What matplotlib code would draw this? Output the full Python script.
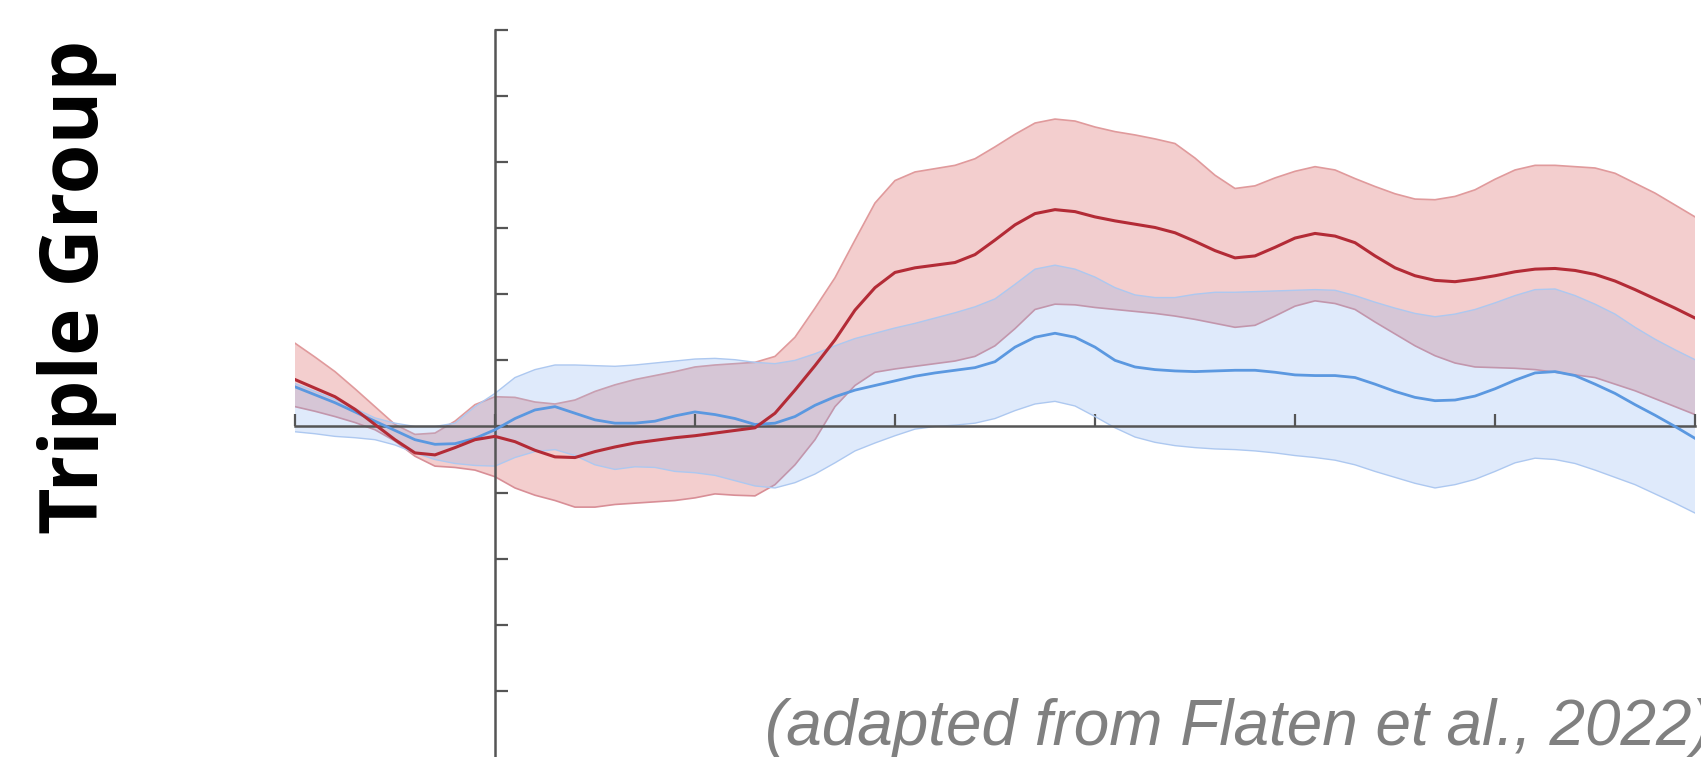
import numpy as np
import matplotlib.pyplot as plt

# -----------------------------
# 1. Data
# -----------------------------
# time axis in tick units, one sample every 0.1
time = np.round(np.arange(-1.0, 6.01, 0.1), 1)

red_mean = [0.71, 0.58, 0.45, 0.26, 0.03, -0.20, -0.40, -0.43, -0.32, -0.20,
            -0.15, -0.23, -0.36, -0.46, -0.47, -0.38, -0.31, -0.25, -0.21, -0.17,
            -0.14, -0.10, -0.06, -0.02, 0.20, 0.55, 0.92, 1.31, 1.76, 2.10,
            2.33, 2.40, 2.44, 2.48, 2.60, 2.82, 3.05, 3.22, 3.28, 3.25,
            3.17, 3.11, 3.06, 3.01, 2.93, 2.80, 2.66, 2.55, 2.58, 2.71,
            2.85, 2.92, 2.88, 2.78, 2.58, 2.40, 2.28, 2.21, 2.19, 2.23,
            2.28, 2.34, 2.38, 2.39, 2.36, 2.30, 2.20, 2.07, 1.93, 1.79,
            1.64]
red_upper = [1.26, 1.05, 0.83, 0.57, 0.30, 0.03, -0.12, -0.10, 0.08, 0.33,
             0.45, 0.44, 0.37, 0.34, 0.40, 0.53, 0.63, 0.71, 0.77, 0.83,
             0.90, 0.93, 0.95, 0.97, 1.06, 1.35, 1.79, 2.25, 2.82, 3.38,
             3.72, 3.85, 3.90, 3.95, 4.05, 4.23, 4.42, 4.59, 4.65, 4.62,
             4.53, 4.46, 4.41, 4.35, 4.28, 4.06, 3.80, 3.60, 3.64, 3.76,
             3.86, 3.93, 3.88, 3.75, 3.63, 3.52, 3.44, 3.43, 3.48, 3.58,
             3.74, 3.88, 3.95, 3.95, 3.93, 3.91, 3.83, 3.68, 3.53, 3.35,
             3.17]
red_lower = [0.30, 0.23, 0.15, 0.06, -0.05, -0.22, -0.45, -0.60, -0.62, -0.66,
             -0.76, -0.93, -1.04, -1.12, -1.22, -1.22, -1.18, -1.16, -1.14, -1.12,
             -1.08, -1.02, -1.04, -1.05, -0.88, -0.58, -0.20, 0.30, 0.62, 0.82,
             0.87, 0.91, 0.95, 0.99, 1.06, 1.22, 1.48, 1.77, 1.85, 1.84,
             1.80, 1.77, 1.74, 1.71, 1.67, 1.62, 1.56, 1.50, 1.53, 1.67,
             1.82, 1.90, 1.86, 1.77, 1.58, 1.40, 1.22, 1.07, 0.96, 0.90,
             0.89, 0.88, 0.86, 0.82, 0.78, 0.74, 0.64, 0.54, 0.42, 0.30,
             0.18]

blue_mean = [0.60, 0.48, 0.36, 0.22, 0.08, -0.06, -0.20, -0.27, -0.26, -0.18,
             -0.05, 0.12, 0.25, 0.30, 0.20, 0.10, 0.05, 0.05, 0.08, 0.16,
             0.22, 0.18, 0.12, 0.03, 0.05, 0.15, 0.32, 0.45, 0.55, 0.62,
             0.69, 0.76, 0.81, 0.85, 0.89, 0.98, 1.20, 1.35, 1.41, 1.35,
             1.20, 1.00, 0.90, 0.86, 0.84, 0.83, 0.84, 0.85, 0.85, 0.82,
             0.78, 0.77, 0.77, 0.74, 0.64, 0.53, 0.44, 0.39, 0.40, 0.46,
             0.57, 0.70, 0.81, 0.83, 0.77, 0.64, 0.50, 0.33, 0.17, 0.00,
             -0.18]
blue_upper = [0.65, 0.53, 0.41, 0.27, 0.13, 0.05, 0.00, 0.00, 0.05, 0.30,
              0.50, 0.74, 0.86, 0.93, 0.93, 0.92, 0.91, 0.93, 0.96, 0.99,
              1.02, 1.03, 1.01, 0.97, 0.95, 1.00, 1.10, 1.22, 1.33, 1.41,
              1.49, 1.56, 1.64, 1.72, 1.81, 1.93, 2.15, 2.38, 2.44, 2.38,
              2.26, 2.10, 1.99, 1.95, 1.95, 2.00, 2.03, 2.03, 2.04, 2.05,
              2.06, 2.07, 2.06, 1.98, 1.88, 1.79, 1.71, 1.66, 1.70, 1.77,
              1.87, 1.98, 2.07, 2.08, 1.98, 1.85, 1.70, 1.50, 1.32, 1.16,
              1.01]
blue_lower = [-0.08, -0.11, -0.15, -0.17, -0.20, -0.28, -0.40, -0.50, -0.56, -0.59,
              -0.60, -0.47, -0.38, -0.35, -0.44, -0.58, -0.65, -0.61, -0.62, -0.68,
              -0.70, -0.74, -0.82, -0.90, -0.93, -0.85, -0.72, -0.55, -0.37, -0.25,
              -0.14, -0.04, 0.00, 0.02, 0.05, 0.12, 0.24, 0.34, 0.38, 0.31,
              0.15, -0.02, -0.16, -0.24, -0.29, -0.32, -0.34, -0.35, -0.37, -0.40,
              -0.44, -0.47, -0.51, -0.58, -0.68, -0.77, -0.86, -0.93, -0.88, -0.80,
              -0.68, -0.55, -0.48, -0.50, -0.56, -0.66, -0.77, -0.88, -1.02, -1.16,
              -1.31]

x_ticks = [-1, 0, 1, 2, 3, 4, 5, 6]
y_ticks = [-4, -3, -2, -1, 0, 1, 2, 3, 4, 5, 6]

# -----------------------------
# 2. Figure / axes layout
# -----------------------------
fig = plt.figure(figsize=(17.01, 7.57), dpi=100)
ax = fig.add_axes([0.1734, 0.0, 0.8231, 0.9606])
ax.set_xlim(-1, 6)
ax.set_ylim(-5, 6)

# -----------------------------
# 3. Bands and mean lines
# -----------------------------
ax.fill_between(time, red_lower, red_upper, facecolor="#e59494", alpha=0.45,
                edgecolor="none", zorder=1)
ax.plot(time, red_upper, color="#e09a9c", lw=1.2, zorder=1.2)
ax.plot(time, red_lower, color="#d88e96", lw=1.2, zorder=1.2)

ax.fill_between(time, blue_lower, blue_upper, facecolor="#82aff0", alpha=0.25,
                edgecolor="none", zorder=1.5)
ax.plot(time, blue_upper, color="#adc8f0", lw=1.0, zorder=1.6)
ax.plot(time, blue_lower, color="#adc8f0", lw=1.0, zorder=1.6)

ax.plot(time, blue_mean, color="#5b98e0", lw=2.0, zorder=3)
ax.plot(time, red_mean, color="#b32b36", lw=2.2, zorder=3.1)

# -----------------------------
# 4. Axes through the origin
# -----------------------------
for side in ["top", "right"]:
    ax.spines[side].set_visible(False)
ax.spines["left"].set_position(("data", 0))
ax.spines["bottom"].set_position(("data", 0))
for side in ["left", "bottom"]:
    ax.spines[side].set_color("#555555")
    ax.spines[side].set_linewidth(1.8)
    ax.spines[side].set_zorder(2.5)

ax.set_xticks(x_ticks)
ax.set_yticks(y_ticks)
ax.tick_params(axis="both", direction="in", length=9, width=1.6,
               color="#555555", labelleft=False, labelbottom=False)
ax.patch.set_visible(False)

# -----------------------------
# 5. Texts
# -----------------------------
fig.text(0.0453, 1 - 287 / 757, "Triple Group", rotation=90,
         ha="center", va="center", fontsize=58, fontweight="bold",
         family="Open Sans", color="black")
# caption runs off the right edge, as in the original slide
fig.text(765 / 1701, 1 - 745 / 757, "(adapted from Flaten et al., 2022)",
         ha="left", va="baseline", fontsize=46, style="italic",
         family="Liberation Sans", color="#808080")

fig.savefig("out.png", dpi=100)
